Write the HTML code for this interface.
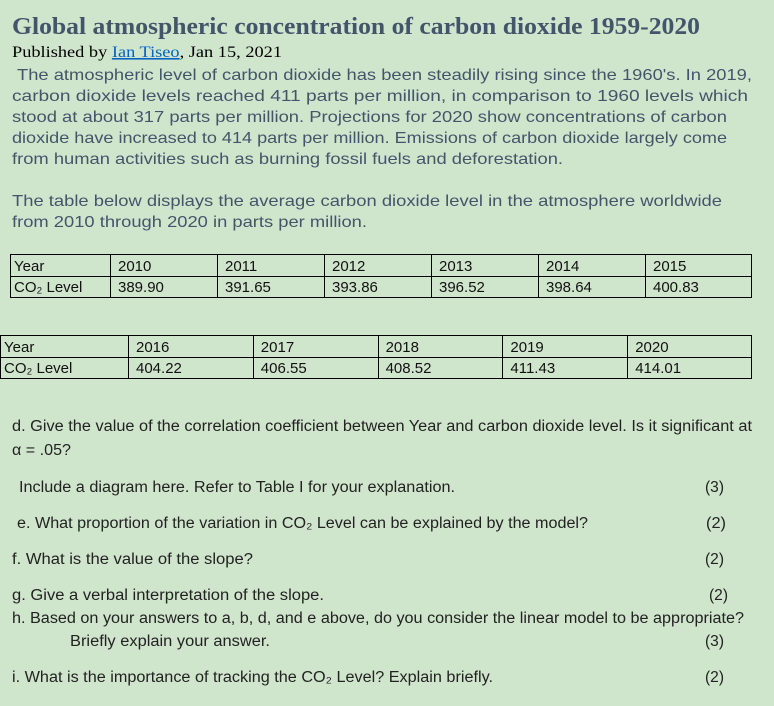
<!DOCTYPE html>
<html><head><meta charset="utf-8"><style>
html,body{margin:0;padding:0;background:#d0e6cc;}
svg{display:block}
.t{font-family:"Liberation Serif",serif;}
.s{font-family:"Liberation Sans",sans-serif;}
</style></head><body>
<svg id="doc" width="774" height="706" viewBox="0 0 774 706" xmlns="http://www.w3.org/2000/svg">
<rect width="774" height="706" fill="#d0e6cc"/>
<text class="t" x="12" y="34" font-size="24" font-weight="bold" fill="#44546a" textLength="688" lengthAdjust="spacingAndGlyphs">Global atmospheric concentration of carbon dioxide 1959-2020</text>
<text class="t" x="12" y="57" font-size="16" fill="#000" textLength="270" lengthAdjust="spacingAndGlyphs">Published by <tspan fill="#0563c1" text-decoration="underline">Ian Tiseo</tspan>, Jan 15, 2021</text>
<g class="s" font-size="16" fill="#44546a">
<text x="17" y="80" textLength="735" lengthAdjust="spacingAndGlyphs">The atmospheric level of carbon dioxide has been steadily rising since the 1960's. In 2019,</text>
<text x="12" y="101" textLength="736" lengthAdjust="spacingAndGlyphs">carbon dioxide levels reached 411 parts per million, in comparison to 1960 levels which</text>
<text x="12" y="122" textLength="715" lengthAdjust="spacingAndGlyphs">stood at about 317 parts per million. Projections for 2020 show concentrations of carbon</text>
<text x="12" y="143" textLength="715" lengthAdjust="spacingAndGlyphs">dioxide have increased to 414 parts per million. Emissions of carbon dioxide largely come</text>
<text x="12" y="164" textLength="551" lengthAdjust="spacingAndGlyphs">from human activities such as burning fossil fuels and deforestation.</text>
<text x="12" y="206" textLength="710" lengthAdjust="spacingAndGlyphs">The table below displays the average carbon dioxide level in the atmosphere worldwide</text>
<text x="12" y="227" textLength="355" lengthAdjust="spacingAndGlyphs">from 2010 through 2020 in parts per million.</text>
</g>
<g id="tables"></g>
<g class="s" font-size="15.5" fill="#222">
<text x="12" y="431" textLength="740" lengthAdjust="spacingAndGlyphs">d. Give the value of the correlation coefficient between Year and carbon dioxide level. Is it significant at</text>
<text x="12" y="455" textLength="59" lengthAdjust="spacingAndGlyphs">α = .05?</text>
<text x="19" y="492" textLength="436" lengthAdjust="spacingAndGlyphs">Include a diagram here. Refer to Table I for your explanation.</text>
<text x="705" y="492" textLength="19" lengthAdjust="spacingAndGlyphs">(3)</text>
<text x="17" y="528" textLength="571" lengthAdjust="spacingAndGlyphs">e. What proportion of the variation in CO₂ Level can be explained by the model?</text>
<text x="706" y="528" textLength="20" lengthAdjust="spacingAndGlyphs">(2)</text>
<text x="12" y="564" textLength="241" lengthAdjust="spacingAndGlyphs">f.  What is the value of the slope?</text>
<text x="705" y="564" textLength="19" lengthAdjust="spacingAndGlyphs">(2)</text>
<text x="12" y="600" textLength="312" lengthAdjust="spacingAndGlyphs">g.  Give a verbal interpretation of the slope.</text>
<text x="709" y="600" textLength="19" lengthAdjust="spacingAndGlyphs">(2)</text>
<text x="12" y="623" textLength="732" lengthAdjust="spacingAndGlyphs">h.  Based on your answers to a, b, d, and e above, do you consider the linear model to be appropriate?</text>
<text x="70" y="646" textLength="200" lengthAdjust="spacingAndGlyphs">Briefly explain your answer.</text>
<text x="705" y="646" textLength="19" lengthAdjust="spacingAndGlyphs">(3)</text>
<text x="12" y="682" textLength="481" lengthAdjust="spacingAndGlyphs">i. What is the importance of tracking the CO₂ Level?  Explain briefly.</text>
<text x="705" y="682" textLength="19" lengthAdjust="spacingAndGlyphs">(2)</text>
</g>
</svg>
<script>
const years1=["2010","2011","2012","2013","2014","2015"];
const levels1=["389.90","391.65","393.86","396.52","398.64","400.83"];
const years2=["2016","2017","2018","2019","2020"];
const levels2=["404.22","406.55","408.52","411.43","414.01"];
const NS="http://www.w3.org/2000/svg";
const g=document.getElementById('tables');
function mk(tag,attrs,parent){const e=document.createElementNS(NS,tag);for(const k in attrs)e.setAttribute(k,attrs[k]);parent.appendChild(e);return e;}
function table(name,x0,x1,firstW,top,mid,bot,years,levels){
  const tg=mk('g',{},g);
  
  
  const cw=(x1-x0-firstW)/years.length;
  mk('rect',{x:x0+0.5,y:top+0.5,width:x1-x0-1,height:bot-top-1,fill:'none',stroke:'#000','stroke-width':1},tg);
  mk('line',{x1:x0,x2:x1,y1:mid+0.5,y2:mid+0.5,stroke:'#000'},tg);
  for(let i=0;i<years.length;i++){const x=Math.round(x0+firstW+i*cw)+0.5;mk('line',{x1:x,x2:x,y1:top,y2:bot,stroke:'#000'},tg);}
  const lab=(txt,x,y)=>{const t=mk('text',{x:x,y:y,'font-family':'Liberation Sans, sans-serif','font-size':15,fill:'#111'},tg);t.textContent=txt;
    
    return t;};
  lab('Year',x0+4,top+17);
  lab('CO₂ Level',x0+4,mid+16);
  years.forEach((y,i)=>{const x=x0+firstW+i*cw+8;lab(y,x,top+17);lab(levels[i],x,mid+16);});
}
table('co2-table-2010-2015',10,752,100,254,276,298,years1,levels1);
table('co2-table-2016-2020',0,752,128,335,357,379,years2,levels2);
</script>
</body></html>
